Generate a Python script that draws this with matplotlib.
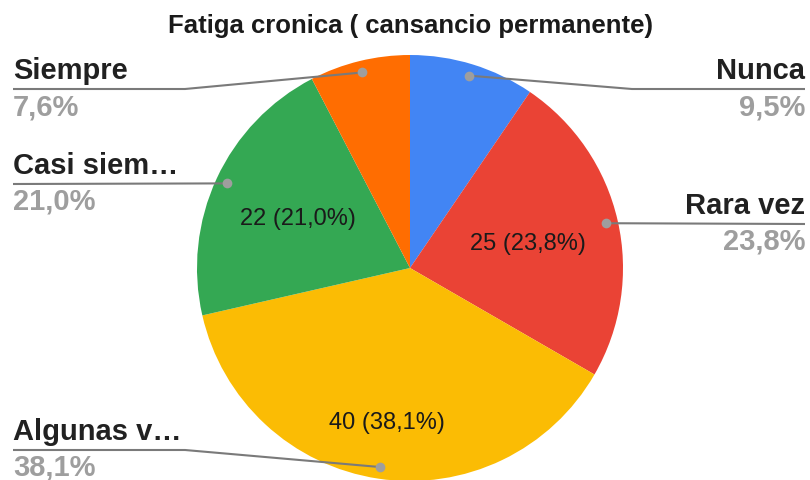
import numpy as np
import matplotlib.pyplot as plt

# ============================
# Data
# ============================
title = "Fatiga cronica ( cansancio permanente)"
categories = ["Nunca", "Rara vez", "Algunas veces", "Casi siempre", "Siempre"]
short_names = ["Nunca", "Rara vez", "Algunas v…", "Casi siem…", "Siempre"]
counts = [10, 25, 40, 22, 8]
colors = ["#4285F4", "#EA4335", "#FBBC04", "#34A853", "#FF6D01"]

# ============================
# Layout (pixels, y down)
# ============================
cx, cy, R = 410, 268, 213
side = ["right", "right", "left", "left", "left"]
underline_y = [89, 224, 450, 184, 89]
elbow_x = [632, None, 185, None, 185]
inner_r = [None, 0.57, 0.72, 0.58, None]
FONT = ["Liberation Sans", "DejaVu Sans"]

fig = plt.figure(figsize=(8.1, 4.8), dpi=100)
ax = fig.add_axes([0, 0, 1, 1])

total = sum(counts)
pcts = [c / total * 100 for c in counts]

# y axis is inverted, so counter-clockwise in data = clockwise on screen
ax.pie(counts, colors=colors, center=(cx, cy), radius=R,
       startangle=-90, counterclock=True,
       wedgeprops=dict(linewidth=0))

ax.set_xlim(0, 810)
ax.set_ylim(480, 0)
ax.set_aspect("equal")
ax.axis("off")


def fmt(p):
    return f"{p:.1f}%".replace(".", ",")


cum = 0
for i, c in enumerate(counts):
    mid = np.radians((cum + c / 2) / total * 360)
    cum += c
    dx, dy = np.sin(mid), -np.cos(mid)

    # inner value label
    if inner_r[i] is not None:
        ax.text(cx + inner_r[i] * R * dx, cy + inner_r[i] * R * dy + 3,
                f"{c} ({fmt(pcts[i])})", ha="center", va="center",
                fontsize=17, family=FONT, color="#1a1a1a")

    # leader line
    px, py = cx + 0.945 * R * dx, cy + 0.945 * R * dy
    uy = underline_y[i]
    tx = 13 if side[i] == "left" else 805
    ha = side[i]
    xs = [tx] + ([elbow_x[i]] if elbow_x[i] else []) + [px]
    ys = [uy] + ([uy] if elbow_x[i] else []) + [py]
    ax.plot(xs, ys, color="#7a7a7a", lw=1.5, solid_capstyle="butt")
    ax.plot(px, py, "o", color="#9e9e9e", ms=7, mec="none")

    ax.text(tx, uy - 10, short_names[i], ha=ha, va="baseline",
            fontsize=21, fontweight="bold", family=FONT, color="#212121")
    ax.text(tx, uy + 26, fmt(pcts[i]), ha=ha, va="baseline",
            fontsize=21, fontweight="bold", family=FONT, color="#9e9e9e")

ax.text(410, 33, title, ha="center", va="baseline",
        fontsize=18.5, fontweight="bold", family=FONT, color="#1a1a1a")

plt.savefig("out.png", dpi=100)
